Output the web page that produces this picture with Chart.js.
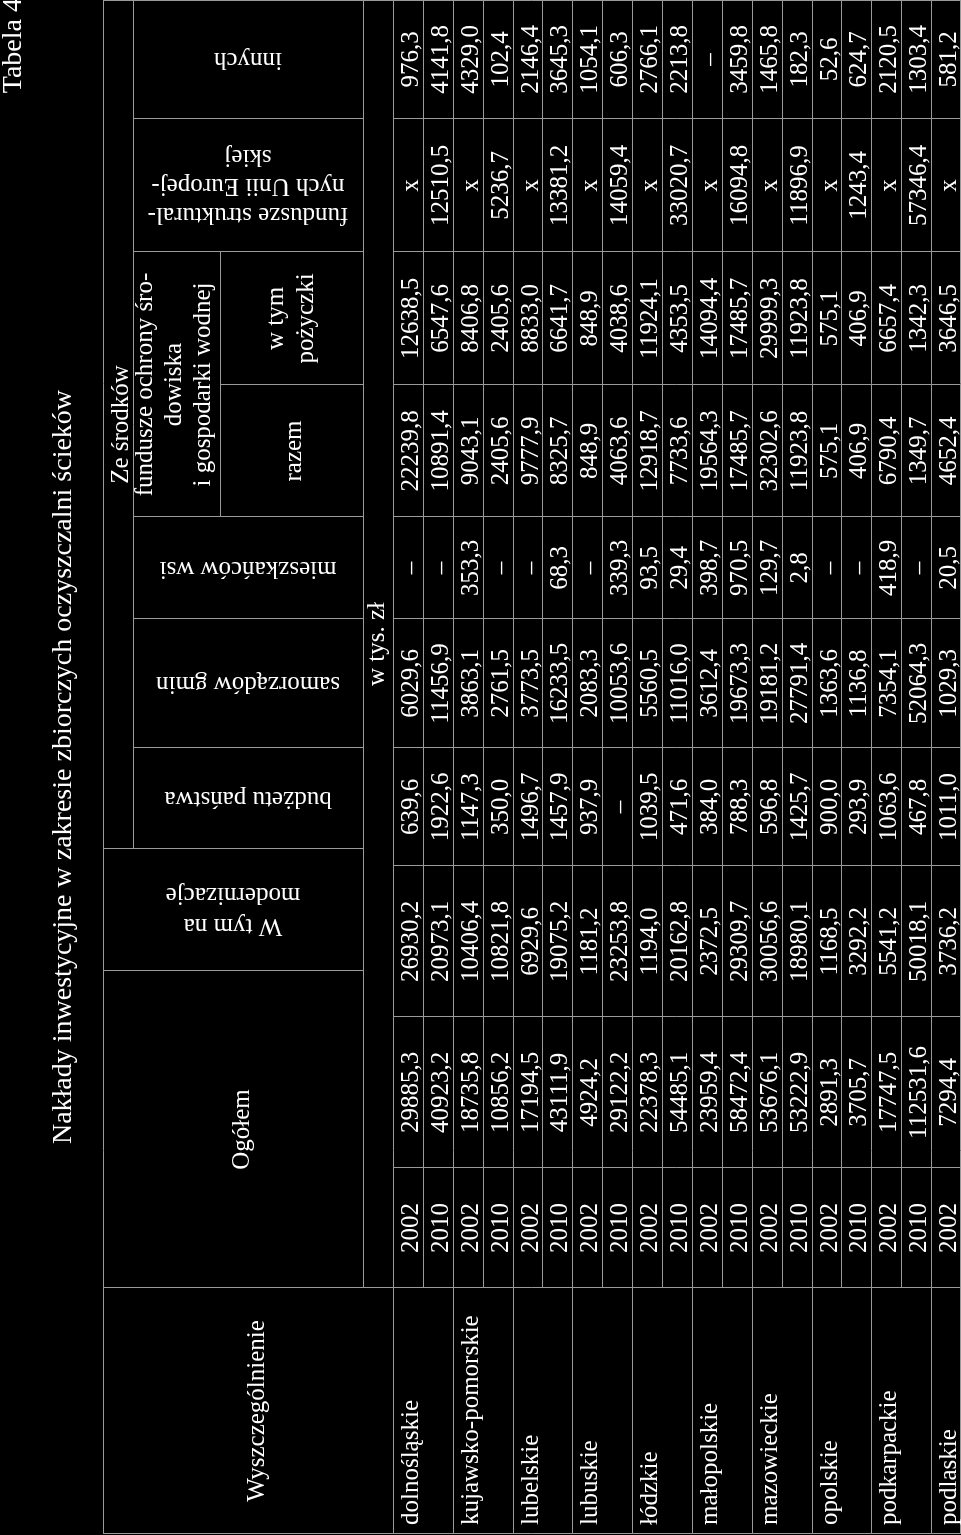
<!DOCTYPE html>
<html>
<head>
<meta charset="utf-8">
<script src="https://cdn.jsdelivr.net/npm/chart.js@4.4.1/dist/chart.umd.min.js"></script>
<style>
  html, body { margin: 0; padding: 0; background: #000; overflow: hidden; }
  #wrap { position: absolute; left: 0; top: 0; width: 1535px; height: 961px;
          transform-origin: 0 0; transform: translateY(1535px) rotate(-90deg); }
</style>
</head>
<body>
<div id="wrap"><canvas id="tabela" width="1535" height="961"></canvas></div>
<script>
// dane tabeli (w tys. zł), 'x' i '–' jak w oryginale
var regiony = ['dolnośląskie', 'kujawsko-pomorskie', 'lubelskie', 'lubuskie', 'łódzkie',
    'małopolskie', 'mazowieckie', 'opolskie', 'podkarpackie', 'podlaskie'];
var lata = [2002, 2010];
var ogolem = [29885.3, 40923.2, 18735.8, 10856.2, 17194.5, 43111.9, 4924.2, 29122.2, 22378.3, 54485.1,
    23959.4, 58472.4, 53676.1, 53222.9, 2891.3, 3705.7, 17747.5, 112531.6, 7294.4];
var modernizacje = [26930.2, 20973.1, 10406.4, 10821.8, 6929.6, 19075.2, 1181.2, 23253.8, 1194.0, 20162.8,
    2372.5, 29309.7, 30056.6, 18980.1, 1168.5, 3292.2, 5541.2, 50018.1, 3736.2];
var budzet = [639.6, 1922.6, 1147.3, 350.0, 1496.7, 1457.9, 937.9, '–', 1039.5, 471.6,
    384.0, 788.3, 596.8, 1425.7, 900.0, 293.9, 1063.6, 467.8, 1011.0];
var samorzady = [6029.6, 11456.9, 3863.1, 2761.5, 3773.5, 16233.5, 2083.3, 10053.6, 5560.5, 11016.0,
    3612.4, 19673.3, 19181.2, 27791.4, 1363.6, 1136.8, 7354.1, 52064.3, 1029.3];
var mieszkancy = ['–', '–', 353.3, '–', '–', 68.3, '–', 339.3, 93.5, 29.4,
    398.7, 970.5, 129.7, 2.8, '–', '–', 418.9, '–', 20.5];
var fosRazem = [22239.8, 10891.4, 9043.1, 2405.6, 9777.9, 8325.7, 848.9, 4063.6, 12918.7, 7733.6,
    19564.3, 17485.7, 32302.6, 11923.8, 575.1, 406.9, 6790.4, 1349.7, 4652.4];
var fosPozyczki = [12638.5, 6547.6, 8406.8, 2405.6, 8833.0, 6641.7, 848.9, 4038.6, 11924.1, 4353.5,
    14094.4, 17485.7, 29999.3, 11923.8, 575.1, 406.9, 6657.4, 1342.3, 3646.5];
var funduszeUE = ['x', 12510.5, 'x', 5236.7, 'x', 13381.2, 'x', 14059.4, 'x', 33020.7,
    'x', 16094.8, 'x', 11896.9, 'x', 1243.4, 'x', 57346.4, 'x'];
var inne = [976.3, 4141.8, 4329.0, 102.4, 2146.4, 3645.3, 1054.1, 606.3, 2766.1, 2213.8,
    '–', 3459.8, 1465.8, 182.3, 52.6, 624.7, 2120.5, 1303.4, 581.2];

var tytul = 'Nakłady inwestycyjne w zakresie zbiorczych oczyszczalni ścieków';
var numerTabeli = 'Tabela 4';

// wiersze: region + rok (ostatni widoczny to podlaskie 2002)
var wiersze = [];
regiony.forEach(function (r) {
    lata.forEach(function (rok) { wiersze.push({ region: r, rok: rok }); });
});
wiersze = wiersze.slice(0, ogolem.length);

var kolumny = [ogolem, modernizacje, budzet, samorzady, mieszkancy, fosRazem, fosPozyczki, funduszeUE, inne];

// krawedzie kolumn (skala x) - czesc danych i naglowek sa przesuniete jak w oryginale
var krawedzieDanych = [1, 247, 367, 518, 669, 787, 916, 1018, 1150, 1283, 1416, 1535];

function fmt(v) {
    return typeof v === 'number' ? v.toFixed(1).replace('.', ',') : v;
}

var FONT = '"Liberation Serif", "Times New Roman", serif';

var tabelaPlugin = {
    id: 'tabela',
    beforeDraw: function (chart) {
        var ctx = chart.ctx;
        ctx.save();
        ctx.fillStyle = '#000';
        ctx.fillRect(0, 0, chart.width, chart.height);
        ctx.restore();
    },
    afterDraw: function (chart) {
        var ctx = chart.ctx;
        var x = chart.scales.x;
        var y = chart.scales.y;
        var band = y.getPixelForValue(1) - y.getPixelForValue(0);
        var rowTop = function (i) { return y.getPixelForValue(i) - band / 2; };
        var X = function (v) { return x.getPixelForValue(v); };
        var top = y.top;
        var bottom = Math.min(y.bottom, chart.height) - 0.5;

        // wiersze naglowka
        var hTop = top - 290, hZe = top - 260, hFund = top - 173, hJedn = top - 30;

        ctx.save();
        ctx.strokeStyle = '#9a9a9a';
        ctx.lineWidth = 1;
        var snap = function (v) { return Math.round(v) + 0.5; };
        var hline = function (a, b, yy) {
            ctx.beginPath(); ctx.moveTo(X(a), snap(yy)); ctx.lineTo(X(b), snap(yy)); ctx.stroke();
        };
        var vline = function (xx, a, b) {
            ctx.beginPath(); ctx.moveTo(snap(X(xx)), a); ctx.lineTo(snap(X(xx)), b); ctx.stroke();
        };

        hline(1, 1535, hTop);
        hline(686, 1535, hZe);
        hline(1018, 1283, hFund);
        hline(247, 1535, hJedn);
        hline(1, 1535, top);
        for (var k = 1; k < wiersze.length; k++) {
            hline(k % 2 === 0 ? 1 : 247, 1535, rowTop(k));
        }
        ctx.beginPath(); ctx.moveTo(X(1), bottom); ctx.lineTo(X(1535), bottom); ctx.stroke();

        vline(1, hTop, bottom);
        vline(247, hTop, bottom);
        vline(1534, hTop, bottom);
        vline(564, hTop, hJedn);
        vline(686, hTop, hJedn);
        [787, 916, 1018, 1283, 1416].forEach(function (e) { vline(e, hZe, hJedn); });
        vline(1150, hFund, hJedn);
        krawedzieDanych.slice(2, -1).forEach(function (e) { vline(e, top, bottom); });
        ctx.restore();

        ctx.save();
        ctx.fillStyle = '#ffffff';
        ctx.textBaseline = 'alphabetic';

        // tytul i numer tabeli
        ctx.font = '28px ' + FONT;
        ctx.textAlign = 'center';
        ctx.fillText(tytul, X(768), 71);
        ctx.textAlign = 'right';
        ctx.fillText(numerTabeli, X(1537), 21);

        ctx.font = '25px ' + FONT;
        var poziomo = function (lines, a, b, bases) {
            ctx.textAlign = 'center';
            lines.forEach(function (t, i) { ctx.fillText(t, (X(a) + X(b)) / 2, bases[i]); });
        };
        poziomo(['Ze środków'], 686, 1535, [hZe - 5]);
        poziomo(['fundusze ochrony śro-', 'dowiska', 'i gospodarki wodnej'], 1018, 1283, [hZe + 19, hZe + 48, hZe + 77]);
        poziomo(['razem'], 1018, 1150, [hFund + 81]);
        poziomo(['w tym', 'pożyczki'], 1150, 1283, [hFund + 63, hFund + 93]);
        poziomo(['Ogółem'], 247, 564, [hTop + 146]);
        poziomo(['Wyszczególnienie'], 1, 247, [hTop + 161]);
        poziomo(['w tys. zł'], 247, 1535, [hJedn + 21]);

        var pionowo = function (lines, a, b, y1, y2, lh) {
            ctx.save();
            ctx.translate((X(a) + X(b)) / 2, (y1 + y2) / 2);
            ctx.rotate(-Math.PI / 2);
            ctx.textAlign = 'center';
            lines.forEach(function (t, i) {
                ctx.fillText(t, 0, 6 + (i - (lines.length - 1) / 2) * lh);
            });
            ctx.restore();
        };
        pionowo(['innych'], 1416, 1535, hZe, hJedn, 29);
        pionowo(['fundusze struktural-', 'nych Unii Europej-', 'skiej'], 1283, 1416, hZe, hJedn, 29);
        pionowo(['mieszkańców wsi'], 916, 1018, hZe, hJedn, 29);
        pionowo(['samorządów gmin'], 787, 916, hZe, hJedn, 29);
        pionowo(['budżetu państwa'], 686, 787, hZe, hJedn, 29);
        pionowo(['W tym na', 'modernizacje'], 564, 686, hTop, hJedn, 31);

        // dane
        wiersze.forEach(function (w, r) {
            var base = rowTop(r) + 25;
            if (r % 2 === 0) {
                ctx.textAlign = 'left';
                ctx.fillText(w.region, X(10), base);
            }
            ctx.textAlign = 'center';
            ctx.fillText(String(w.rok), (X(krawedzieDanych[1]) + X(krawedzieDanych[2])) / 2, base);
            kolumny.forEach(function (kol, c) {
                var cx = (X(krawedzieDanych[c + 2]) + X(krawedzieDanych[c + 3])) / 2;
                ctx.fillText(fmt(kol[r]), cx, base);
            });
        });
        ctx.restore();
    }
};

new Chart(document.getElementById('tabela').getContext('2d'), {
    type: 'bar',
    data: {
        labels: wiersze.map(function (w) { return w.region + ' ' + w.rok; }),
        datasets: []
    },
    options: {
        indexAxis: 'y',
        responsive: false,
        animation: false,
        devicePixelRatio: 1,
        layout: { padding: { top: 393, left: 0, right: 0, bottom: 0 } },
        plugins: { legend: { display: false }, tooltip: { enabled: false } },
        scales: {
            x: { type: 'linear', min: 0, max: 1535, display: false },
            y: { type: 'category', offset: true, display: false }
        }
    },
    plugins: [tabelaPlugin]
});
</script>
</body>
</html>
